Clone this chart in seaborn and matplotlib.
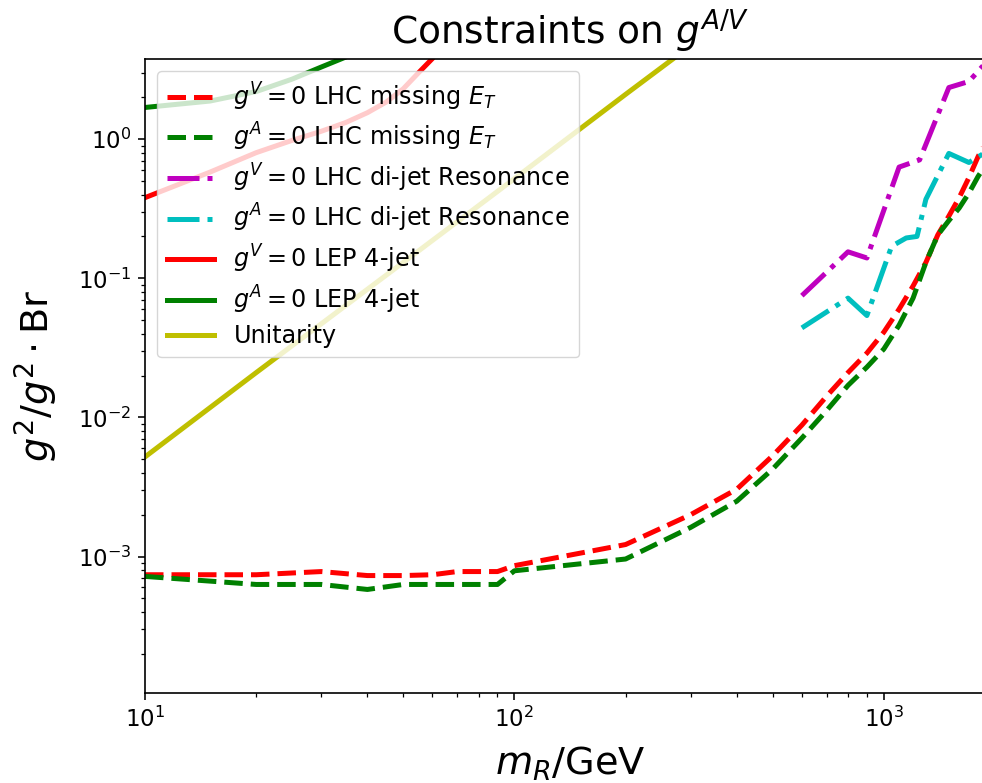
import numpy as np
import pandas as pd
from matplotlib import pyplot as plt
import seaborn as sns

# missing E_T limits (LHC)
met_mass = [10, 20, 30, 40, 50, 60, 70, 80, 90, 100, 200, 300, 400, 500, 600, 700,
            800, 900, 1000, 1100, 1200, 1300, 1400, 1500, 1600, 1700, 1800, 1900, 2000]
met_gv0 = [7.4e-4, 7.4e-4, 7.8e-4, 7.3e-4, 7.3e-4, 7.4e-4, 7.8e-4, 7.8e-4, 7.8e-4, 8.6e-4,
           1.22e-3, 2.0e-3, 3.05e-3, 5.3e-3, 8.8e-3, 1.42e-2, 2.1e-2, 2.9e-2, 4.1e-2,
           6.0e-2, 8.8e-2, 0.13, 0.205, 0.28, 0.38, 0.53, 0.75, 0.98, 1.25]
met_ga0 = [7.2e-4, 6.3e-4, 6.3e-4, 5.8e-4, 6.3e-4, 6.3e-4, 6.3e-4, 6.3e-4, 6.3e-4, 7.9e-4,
           9.6e-4, 1.62e-3, 2.5e-3, 4.25e-3, 7.1e-3, 1.12e-2, 1.7e-2, 2.3e-2, 3.1e-2,
           4.6e-2, 7.2e-2, 0.13, 0.205, 0.26, 0.32, 0.41, 0.54, 0.67, 0.82]

# di-jet resonance limits (LHC)
dj_v_mass = [600, 800, 900, 1100, 1250, 1500, 1700, 2000]
dj_gv0 = [0.075, 0.155, 0.14, 0.63, 0.71, 2.35, 2.6, 4.2]
dj_a_mass = [600, 800, 900, 1050, 1150, 1230, 1300, 1500, 1700, 1850]
dj_ga0 = [0.044, 0.072, 0.054, 0.17, 0.195, 0.2, 0.37, 0.79, 0.68, 0.78]

# LEP 4-jet
lep_v_mass = [10, 15, 20, 25, 30, 35, 40, 45, 50, 55, 60, 65]
lep_gv0 = [0.38, 0.58, 0.80, 0.98, 1.14, 1.32, 1.55, 1.85, 2.3, 3.0, 3.8, 5.0]
lep_a_mass = [10, 15, 20, 25, 30, 35, 40]
lep_ga0 = [1.69, 1.88, 2.2, 2.7, 3.3, 3.9, 4.6]

# unitarity
uni_mass = [10, 20, 50, 100, 200, 300]
uni_val = [0.0052, 0.021, 0.13, 0.52, 2.1, 4.7]

plt.rcParams['font.family'] = ['DejaVu Sans']
plt.rcParams['xtick.major.size'] = 5
plt.rcParams['ytick.major.size'] = 5
plt.rcParams['xtick.minor.size'] = 2.9
plt.rcParams['ytick.minor.size'] = 2.9
plt.rcParams['xtick.major.width'] = 1.15
plt.rcParams['ytick.major.width'] = 1.15
plt.rcParams['xtick.minor.width'] = 0.9
plt.rcParams['ytick.minor.width'] = 0.9
plt.rcParams['axes.linewidth'] = 1.2

fig = plt.figure(figsize=(9.82, 7.83), dpi=100)
ax = fig.add_axes([145 / 982, (783 - 693.3) / 783, (995 - 145) / 982, (693.3 - 59) / 783])

lw = 3.6
series = [
    (met_mass, met_gv0, 'r', '--', r'$g^V=0$ LHC missing $E_T$'),
    (met_mass, met_ga0, 'g', '--', r'$g^A=0$ LHC missing $E_T$'),
    (dj_v_mass, dj_gv0, 'm', '-.', r'$g^V=0$ LHC di-jet Resonance'),
    (dj_a_mass, dj_ga0, 'c', '-.', r'$g^A=0$ LHC di-jet Resonance'),
    (lep_v_mass, lep_gv0, 'r', '-', r'$g^V=0$ LEP 4-jet'),
    (lep_a_mass, lep_ga0, 'g', '-', r'$g^A=0$ LEP 4-jet'),
    (uni_mass, uni_val, 'y', '-', 'Unitarity'),
]
for xs, ys, col, ls, lab in series:
    df = pd.DataFrame({'m': xs, 'g': ys})
    sns.lineplot(data=df, x='m', y='g', ax=ax, color=col, linestyle=ls,
                 linewidth=lw, label=lab, estimator=None)

ax.set_xscale('log')
ax.set_yscale('log')
ax.set_xlim(10, 2000)
ax.set_ylim(1.04e-4, 3.77)
ax.tick_params(labelsize=16.5, pad=5)

ax.set_title(r'Constraints on $g^{A/V}$', fontsize=27, pad=11)
ax.set_xlabel(r'$m_R$/GeV', fontsize=27.5, labelpad=9)
ax.set_ylabel(r'$g^2/g^2\cdot$Br', fontsize=27.5, labelpad=13)
ax.legend(loc='upper left', fontsize=17.2, handlelength=2.0, labelspacing=0.35)

fig.savefig('out.png', dpi=100)
